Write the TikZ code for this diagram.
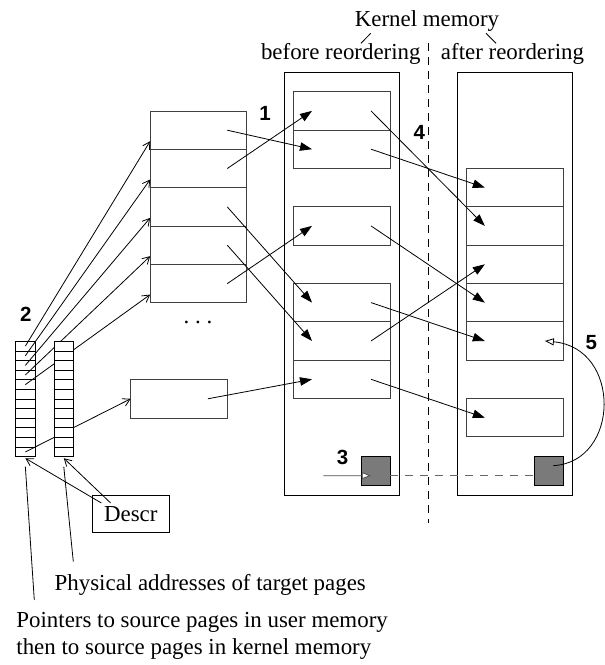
\documentclass[tikz,border=0pt]{standalone}
\usepackage{fontspec}
\setmainfont{Liberation Serif}
\newfontfamily\numfont{Liberation Sans}
\usetikzlibrary{arrows.meta,positioning}

\tikzset{
  txt/.style={font=\fontsize{22.9}{26.7}\selectfont, inner sep=0pt},
  num/.style={font=\numfont\fontsize{20.5}{24}\selectfont\bfseries, inner sep=0pt},
  page/.style={draw=black!75, minimum width=96.3pt, minimum height=38.35pt, inner sep=0pt, outer sep=0pt},
  memory/.style={draw, minimum width=115pt, minimum height=422.3pt, inner sep=0pt, outer sep=0pt},
  cell/.style={draw, minimum width=19.3pt, minimum height=9.62pt, inner sep=0pt, outer sep=0pt},
  greybox/.style={draw, fill=black!52, minimum width=28.5pt, minimum height=28.7pt, inner sep=0pt, outer sep=0pt},
  move/.style={-{Triangle[length=12pt,width=8.5pt]}},
  ptr/.style={-{Straight Barb[length=7pt,width=8pt]}},
  hollow/.style={-{Triangle[open,fill=white,length=9pt,width=7pt]}},
}

\begin{document}
\begin{tikzpicture}[x=1pt,y=-1pt,line width=0.8pt]
    \useasboundingbox (0,0) rectangle (605,665);

    % Titulos
    \node[txt, anchor=base] (km) at (427,26) {Kernel memory};
    \node[txt, anchor=base] (tbefore) at (340.8,59.3) {before reordering};
    \node[txt, anchor=base] (tafter) at (512.5,59.3) {after reordering};
    \coordinate (k1) at (370.7,33.3);
    \coordinate (k2) at (361,43.3);
    \coordinate (k3) at (486,33.3);
    \coordinate (k4) at (496,43.3);
    \draw (k1) -- (k2);
    \draw (k3) -- (k4);

    % Separacao tracejada
    \coordinate (dtop) at (428.3,43);
    \coordinate (dbot) at (428.3,523.3);
    \draw[dash pattern=on 8pt off 6pt] (dtop) -- (dbot);

    % Memoria do kernel
    \node[memory] (kb) at (341.8,283.85) {};
    \node[memory] (ka) at (514.7,283.85) {};

    % Paginas antes da reordenacao
    \node[page] (b1) at (342,110.9) {};
    \node[page] (b2) at (342,149.2) {};
    \node[page] (b3) at (342,225.9) {};
    \node[page] (b4) at (342,302.6) {};
    \node[page] (b5) at (342,341.0) {};
    \node[page] (b6) at (342,379.3) {};

    % Paginas depois da reordenacao
    \node[page] (a1) at (514.85,187.6) {};
    \node[page] (a2) at (514.85,225.9) {};
    \node[page] (a3) at (514.85,264.3) {};
    \node[page] (a4) at (514.85,302.6) {};
    \node[page] (a5) at (514.85,341.0) {};
    \node[page] (a6) at (514.85,417.7) {};

    % Paginas na memoria do usuario
    \node[page] (u1) at (198.3,130.2) {};
    \node[page] (u2) at (198.3,168.5) {};
    \node[page] (u3) at (198.3,206.9) {};
    \node[page] (u4) at (198.3,245.2) {};
    \node[page] (u5) at (198.3,283.6) {};
    \node[page] (u6) at (178.85,398.8) {};
    \node[txt, anchor=base, font=\fontsize{22.9}{26.7}\selectfont\frenchspacing] (dots) at (198,323) {. . .};

    % Vetor de ponteiros
    \foreach \k in {1,...,12}
        \node[cell] (l\k) at (25.35,{336.49+9.62*\k}) {};
    \foreach \k in {1,...,5}
        \draw[ptr] (l\k.center) -- ([yshift=-11pt]u\k.west);
    \draw[ptr] (l12.center) -- (u6.west);

    % Vetor de enderecos fisicos
    \foreach \k in {1,...,12}
        \node[cell, fill=white] (r\k) at (63.8,{336.49+9.62*\k}) {};

    % Copia para a memoria do kernel
    \draw[move] ([xshift=29pt]u1.center) -- ([xshift=-30pt]b2.center);
    \draw[move] ([xshift=29pt]u2.center) -- ([xshift=-30pt]b1.center);
    \draw[move] ([xshift=29pt]u3.center) -- ([xshift=-30pt]b4.center);
    \draw[move] ([xshift=29pt]u4.center) -- ([xshift=-30pt]b5.center);
    \draw[move] ([xshift=29pt]u5.center) -- ([xshift=-30pt]b3.center);
    \draw[move] ([xshift=29pt]u6.center) -- ([xshift=-30pt]b6.center);

    % Reordenacao
    \draw[move] ([xshift=29pt]b1.center) -- ([xshift=-30pt]a2.center);
    \draw[move] ([xshift=29pt]b2.center) -- ([xshift=-30pt]a1.center);
    \draw[move] ([xshift=29pt]b3.center) -- ([xshift=-30pt]a4.center);
    \draw[move] ([xshift=29pt]b4.center) -- ([xshift=-30pt]a5.center);
    \draw[move] ([xshift=29pt]b5.center) -- ([xshift=-30pt]a3.center);
    \draw[move] ([xshift=29pt]b6.center) -- ([xshift=-30pt]a6.center);

    % Paginas de codigo
    \node[greybox] (g1) at (375.85,470.65) {};
    \node[greybox] (g2) at (548.65,470.65) {};
    \coordinate (c3) at (323.3,475.7);
    \draw[hollow, draw=black!70] (c3) -- ([shift={(-5pt,-5pt)}]g1.center);
    \draw[draw=black!60, dash pattern=on 8pt off 7pt] ([yshift=-5pt]g1.east) -- ([yshift=-5pt]g2.west);
    \draw[hollow] ([shift={(4.7pt,5pt)}]g2.center)
        .. controls (620,462) and (622,348) .. ([xshift=30pt]a5.center);

    % Descritor
    \node[txt, draw, minimum width=77pt, minimum height=37.7pt] (descr) at (130.8,513.9) {Descr};
    \coordinate (d1) at ([shift={(9.4pt,-8.3pt)}]descr.north west);
    \coordinate (d2) at ([shift={(18.7pt,-8.3pt)}]descr.north west);
    \draw[ptr] (d1) -- ([yshift=-1.5pt]l12.south);
    \draw[ptr] (d2) -- ([yshift=-1.5pt]r12.south);

    % Legendas
    \node[txt, anchor=base west] (phys) at (54.3,590) {Physical addresses of target pages};
    \node[txt, anchor=north west, align=left] (ptrs) at (16,611.8) {Pointers to source pages in user memory\\then to source pages in kernel memory};
    \coordinate (e1) at (34.3,600);
    \coordinate (e2) at (73.3,561.7);
    \draw ([yshift=-10pt]l12.south) -- (e1);
    \draw ([yshift=-10pt]r12.south) -- (e2);

    % Numeros
    \node[num] (n1) at (265,113.7) {1};
    \node[num] (n2) at (25.8,314) {2};
    \node[num] (n3) at (342.5,457.5) {3};
    \node[num] (n4) at (419.2,132.5) {4};
    \node[num] (n5) at (591.2,342.8) {5};
\end{tikzpicture}
\end{document}
